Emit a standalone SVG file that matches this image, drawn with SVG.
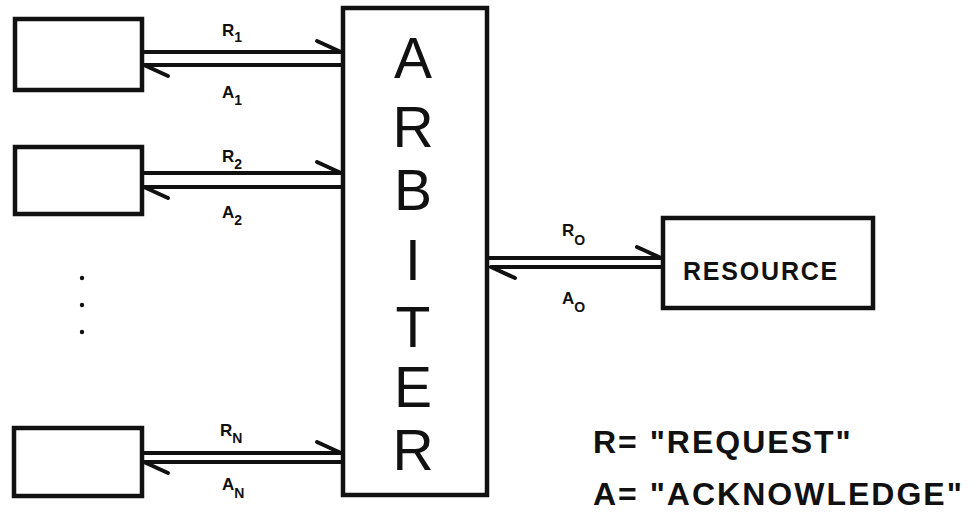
<svg xmlns="http://www.w3.org/2000/svg" width="979" height="523" viewBox="0 0 979 523">
<style>
.box{fill:#fff;stroke:#111;stroke-width:4.5}
.ln{fill:none;stroke:#111;stroke-width:4}
.barb{fill:none;stroke:#111;stroke-width:4;stroke-linecap:round}
.big{font-family:"Liberation Sans",Arial,sans-serif;font-size:57px;fill:#111;text-anchor:middle}
.lbl{font-family:"Liberation Sans",Arial,sans-serif;font-weight:bold;font-size:17px;fill:#111}
.sub{font-size:14px}
.res{font-family:"Liberation Sans",Arial,sans-serif;font-weight:bold;font-size:25px;letter-spacing:1.8px;fill:#111}
.leg{font-family:"Liberation Sans",Arial,sans-serif;font-weight:bold;font-size:32px;letter-spacing:2px;fill:#111}
</style>
<defs>
<marker id="half" markerUnits="userSpaceOnUse" viewBox="-30 -16 34 20" refX="0" refY="0" markerWidth="34" markerHeight="20" orient="auto" overflow="visible">
<path d="M0,0 L-24,-11" class="barb"/>
</marker>
</defs>
<rect width="979" height="523" fill="#fff"/>
<g id="requester1"><rect class="box" x="15" y="19" width="127" height="71"/></g>
<g id="requester2"><rect class="box" x="15" y="147" width="127" height="67"/></g>
<g id="requesterN"><rect class="box" x="14" y="428" width="128" height="68"/></g>
<g id="dots" fill="#111">
<circle cx="82" cy="278" r="2.2"/><circle cx="82" cy="305" r="2.2"/><circle cx="82" cy="332" r="2.2"/>
</g>
<g id="arbiter">
<rect class="box" x="343" y="8" width="144" height="487" stroke-width="5"/>
<text class="big" x="413" y="78">A</text>
<text class="big" x="413" y="147">R</text>
<text class="big" x="413" y="210">B</text>
<text class="big" x="413" y="280">I</text>
<text class="big" x="413" y="347">T</text>
<text class="big" x="413" y="407">E</text>
<text class="big" x="413" y="470">R</text>
</g>
<g id="resource">
<rect class="box" x="663" y="218" width="210" height="90"/>
<text class="res" x="683" y="280">RESOURCE</text>
</g>
<g id="connectors">
<line class="ln" x1="142" y1="52" x2="341" y2="52" marker-end="url(#half)"/>
<line class="ln" x1="341" y1="65" x2="144" y2="65" marker-end="url(#half)"/>
<line class="ln" x1="142" y1="173" x2="341" y2="173" marker-end="url(#half)"/>
<line class="ln" x1="341" y1="187" x2="144" y2="187" marker-end="url(#half)"/>
<line class="ln" x1="142" y1="453" x2="341" y2="453" marker-end="url(#half)"/>
<line class="ln" x1="341" y1="462" x2="144" y2="462" marker-end="url(#half)"/>
<line class="ln" x1="489" y1="258" x2="661" y2="258" marker-end="url(#half)"/>
<line class="ln" x1="661" y1="267" x2="491" y2="267" marker-end="url(#half)"/>
</g>
<g id="labels">
<text class="lbl" x="222" y="36">R<tspan class="sub" dy="6">1</tspan></text>
<text class="lbl" x="222" y="98">A<tspan class="sub" dy="7">1</tspan></text>
<text class="lbl" x="222" y="162">R<tspan class="sub" dy="7">2</tspan></text>
<text class="lbl" x="222" y="218">A<tspan class="sub" dy="7">2</tspan></text>
<text class="lbl" x="220" y="436">R<tspan class="sub" dy="7">N</tspan></text>
<text class="lbl" x="222" y="490">A<tspan class="sub" dy="8">N</tspan></text>
<text class="lbl" x="562" y="236">R<tspan class="sub" dy="9">O</tspan></text>
<text class="lbl" x="562" y="304">A<tspan class="sub" dy="8">O</tspan></text>
</g>
<g id="legend">
<text class="leg" x="593" y="453">R= "REQUEST"</text>
<text class="leg" x="593" y="505">A= "ACKNOWLEDGE"</text>
</g>
</svg>
